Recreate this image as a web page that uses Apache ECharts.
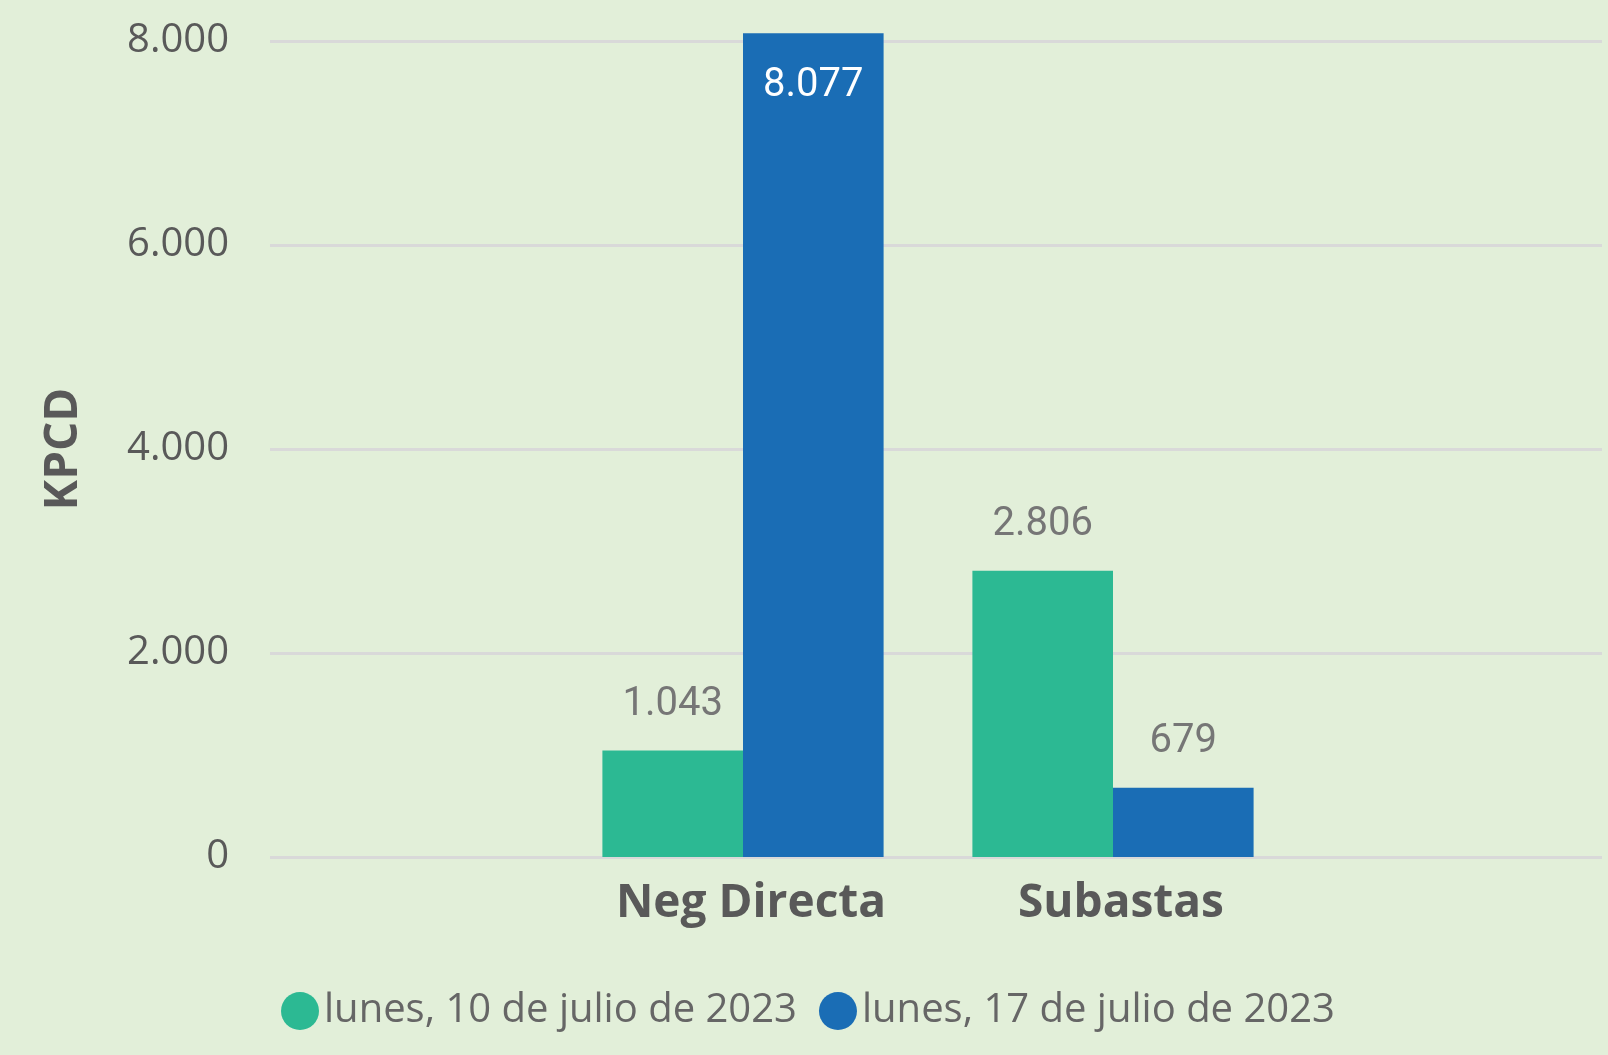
<!DOCTYPE html>
<html>
<head>
<meta charset="utf-8">
<script src="https://cdn.jsdelivr.net/npm/echarts@6/dist/echarts.min.js"></script>
<style>
  html, body { margin: 0; padding: 0; background: #e2efd9; }
  #chart-container { width: 1608px; height: 1055px; }
</style>
</head>
<body>
<div id="chart-container"></div>
<script>
var categories = ['Neg Directa', 'Subastas'];
var seriesNames = ['lunes, 10 de julio de 2023', 'lunes, 17 de julio de 2023'];
var values10Jul = [1043, 2806];
var values17Jul = [8077, 679];
var yTicks = [0, 2000, 4000, 6000, 8000];

function fmt(v) {
  return String(v).replace(/\B(?=(\d{3})+(?!\d))/g, '.');
}

var dom = document.getElementById('chart-container');
var myChart = echarts.init(dom, '', { renderer: 'canvas' });

// the bars grid goes a bit above 8.000 so the tallest bar isn't clipped
var barMax = 8200;
var plotBottom = 857;
var plotH = 816;
var barH = plotH * barMax / yTicks[yTicks.length - 1];

var labelTop = {
  show: true,
  position: 'top',
  distance: 26,
  fontFamily: 'Roboto',
  fontSize: 40,
  color: '#767676',
  formatter: function (p) { return fmt(p.value); }
};

var option = {
  backgroundColor: '#e2efd9',
  animation: false,
  grid: [
    { left: 270, right: 6, top: plotBottom - plotH, height: plotH },
    { left: 558, width: 740, top: plotBottom - barH, height: barH }
  ],
  legend: {
    left: 276,
    top: 986,
    icon: 'circle',
    itemWidth: 38,
    itemHeight: 38,
    itemGap: 22,
    textStyle: {
      fontFamily: 'Open Sans',
      fontSize: 40,
      lineHeight: 40,
      color: '#666666'
    },
    data: seriesNames
  },
  xAxis: [
    { type: 'category', gridIndex: 0, data: [''], show: false },
    {
      type: 'category',
      gridIndex: 1,
      data: categories,
      axisLine: { show: false },
      axisTick: { show: false },
      axisLabel: {
        fontFamily: 'Open Sans',
        fontWeight: 'bold',
        fontSize: 46,
        color: '#595959',
        margin: 24,
        padding: [0, 0, 0, 16]
      }
    }
  ],
  yAxis: [
    {
      type: 'value',
      gridIndex: 0,
      min: yTicks[0],
      max: yTicks[yTicks.length - 1],
      interval: yTicks[1] - yTicks[0],
      name: 'KPCD',
      nameLocation: 'middle',
      nameRotate: 90,
      nameGap: 183,
      nameTextStyle: {
        fontFamily: 'Open Sans',
        fontWeight: 'bold',
        fontSize: 46,
        color: '#595959'
      },
      axisLine: { show: false },
      axisTick: { show: false },
      axisLabel: {
        fontFamily: 'Open Sans',
        fontSize: 40,
        color: '#595959',
        margin: 41,
        formatter: fmt
      },
      splitLine: { lineStyle: { color: '#d9d9d9', width: 3 } }
    },
    {
      type: 'value',
      gridIndex: 1,
      min: 0,
      max: barMax,
      show: false
    }
  ],
  series: [
    {
      name: seriesNames[0],
      type: 'bar',
      xAxisIndex: 1,
      yAxisIndex: 1,
      barGap: 0,
      barCategoryGap: '24%',
      itemStyle: { color: '#2cb993' },
      label: labelTop,
      data: values10Jul
    },
    {
      name: seriesNames[1],
      type: 'bar',
      xAxisIndex: 1,
      yAxisIndex: 1,
      barGap: 0,
      barCategoryGap: '24%',
      itemStyle: { color: '#1a6db5' },
      label: labelTop,
      data: values17Jul.map(function (v, i) {
        // la barra que llega al tope lleva la etiqueta por dentro
        if (i === 0) {
          return { value: v, label: { position: 'insideTop', distance: 33, color: '#ffffff' } };
        }
        return v;
      })
    }
  ]
};

myChart.setOption(option);
window.addEventListener('resize', myChart.resize);
</script>
</body>
</html>
